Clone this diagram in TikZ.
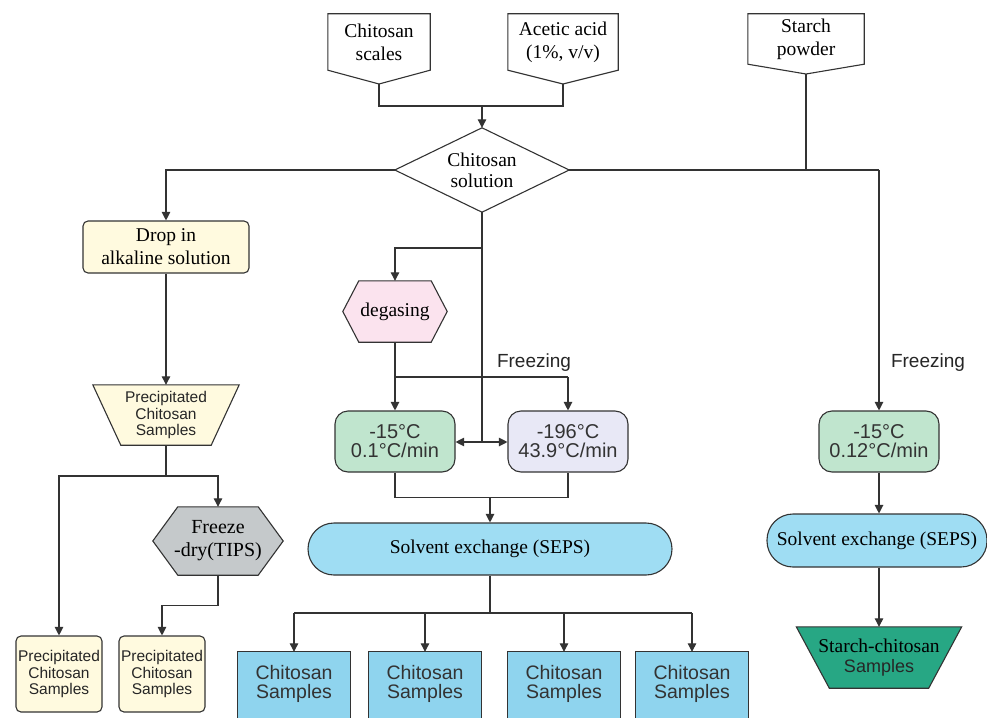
\documentclass[tikz,border=0pt]{standalone}
\usepackage{fontspec}
\setmainfont{Liberation Serif}
\setsansfont{Liberation Sans}
\usetikzlibrary{arrows.meta,backgrounds,calc}
\definecolor{outl}{HTML}{333333}
\definecolor{yel}{HTML}{FFFADF}
\definecolor{pnk}{HTML}{FBE3EE}
\definecolor{grn}{HTML}{C0E5CE}
\definecolor{lav}{HTML}{E8E8F6}
\definecolor{gry}{HTML}{C5C9CB}
\definecolor{sky}{HTML}{9FDDF3}
\definecolor{bbl}{HTML}{8FD4EE}
\definecolor{teal}{HTML}{27A784}
\begin{document}
\begin{tikzpicture}[x=1pt,y=-1pt,
  line/.style={draw=outl, line width=1.1pt},
  arr/.style={line, -{Triangle[length=8.5pt,width=8.5pt]}},
  shp/.style={draw=outl, line width=1.1pt},
  slot/.style={inner sep=0pt, align=center},
  ser/.style={font=\fontsize{19.5}{23}\selectfont},
  sfs/.style={font=\sffamily\fontsize{15.5}{16.5}\selectfont, text=black!85},
  sfm/.style={font=\sffamily\fontsize{19.5}{19}\selectfont, text=black!80},
  sfl/.style={font=\sffamily\fontsize{19}{22}\selectfont, text=black!85, inner sep=0pt},
  temp/.style={slot, draw=outl, line width=1.1pt, rounded corners=13pt,
    minimum width=120pt, minimum height=61pt,
    font=\sffamily\fontsize{20}{19}\selectfont, text=black!80},
  pbox/.style={slot, sfs, draw=outl, line width=1.1pt, fill=yel, rounded corners=5pt,
    minimum width=86pt, minimum height=76pt},
  sxbox/.style={slot, ser, draw=outl, line width=1.1pt, fill=sky, rounded corners=26pt},
]
\useasboundingbox (0,0) rectangle (987,717);

% ---- top inputs
\node[slot,ser,minimum width=102pt,minimum height=56pt] (cs) at (379,42) {Chitosan\\scales};
\coordinate (cs tip) at (379,84);
\node[slot,ser,minimum width=110pt,minimum height=56pt] (aa) at (563,42) {Acetic acid\\(1\%, v/v)};
\coordinate (aa tip) at (563,84);
\node[slot,ser,minimum width=116pt,minimum height=50pt] (sp) at (806,39) {Starch\\powder};
\coordinate (sp tip) at (806,74);
\coordinate (join) at (482,106);
\node[slot,font=\fontsize{19.5}{21}\selectfont,minimum width=174pt,minimum height=84pt] (cso) at (482,170) {Chitosan\\solution};

% ---- left branch
\node[slot,ser,draw=outl,line width=1.1pt,fill=yel,rounded corners=5pt,
  minimum width=166pt,minimum height=52pt] (drop) at (166,247) {Drop in\\alkaline solution};
\node[slot,sfs,minimum width=146pt,minimum height=60pt] (pt) at (166,415) {Precipitated\\Chitosan\\Samples};
\coordinate (lsplit) at (166,476);
\node[slot,font=\fontsize{20}{23}\selectfont,minimum width=130pt,minimum height=68pt] (fd) at (218,541) {Freeze\\-dry(TIPS)};
\node[pbox] (pb1) at (59,674) {Precipitated\\Chitosan\\Samples};
\node[pbox] (pb2) at (162,674) {Precipitated\\Chitosan\\Samples};

% ---- middle branch
\coordinate (br) at (482,248);
\coordinate (dbl) at (482,442);
\node[slot,ser,minimum width=104pt,minimum height=61pt] (deg) at (395,311.5) {degasing};
\coordinate (fz) at (395,377);
\node[sfl] (frz1) at (534,363) {Freezing};
\node[temp,fill=grn] (t1) at (395,441.5) {-15°C\\0.1°C/min};
\node[temp,fill=lav] (t2) at (568,441.5) {-196°C\\43.9°C/min};
\coordinate (mj) at (490,497);
\node[sxbox,minimum width=364pt,minimum height=52pt] (sx) at (490,549) {Solvent exchange (SEPS)};
\coordinate (bs) at (490,613);
\node[slot,sfm,minimum width=112pt,minimum height=64pt] (c1) at (294,684) {Chitosan\\Samples};
\node[slot,sfm,minimum width=112pt,minimum height=64pt] (c2) at (425,684) {Chitosan\\Samples};
\node[slot,sfm,minimum width=112pt,minimum height=64pt] (c3) at (564,684) {Chitosan\\Samples};
\node[slot,sfm,minimum width=112pt,minimum height=64pt] (c4) at (692,684) {Chitosan\\Samples};

% ---- right branch
\node[sfl] (frz2) at (928,363) {Freezing};
\node[temp,fill=grn] (t3) at (879,441.5) {-15°C\\0.12°C/min};
\node[sxbox,minimum width=220pt,minimum height=53pt] (sx2) at (877,540.5) {Solvent exchange (SEPS)};
\node[slot,font=\fontsize{18}{20}\selectfont,minimum width=165pt,minimum height=61pt] (sc) at (879,657.5)
  {{\rmfamily\fontsize{19.5}{20}\selectfont Starch-chitosan}\\{\sffamily\color{black!85}Samples}};

% ---- custom shapes behind text
\begin{scope}[on background layer]
  \foreach \n in {cs,aa,sp}
    \draw[shp,fill=white] (\n.north west) -- (\n.north east) -- (\n.south east)
      -- (\n\space tip) -- (\n.south west) -- cycle;
  \draw[shp,fill=white] (cso.north) -- (cso.east) -- (cso.south) -- (cso.west) -- cycle;
  \draw[shp,fill=yel] (pt.north west) -- (pt.north east) -- ([xshift=-28pt]pt.south east)
    -- ([xshift=28pt]pt.south west) -- cycle;
  \draw[shp,fill=gry] (fd.west) -- ([xshift=25pt]fd.north west) -- ([xshift=-25pt]fd.north east)
    -- (fd.east) -- ([xshift=-25pt]fd.south east) -- ([xshift=25pt]fd.south west) -- cycle;
  \draw[shp,fill=pnk] (deg.west) -- ([xshift=16pt]deg.north west) -- ([xshift=-16pt]deg.north east)
    -- (deg.east) -- ([xshift=-16pt]deg.south east) -- ([xshift=16pt]deg.south west) -- cycle;
  \foreach \n in {c1,c2,c3,c4}
    \draw[shp,fill=bbl] (\n.north west) rectangle ([yshift=-14pt]\n.south east);
  \draw[shp,fill=teal] (sc.north west) -- (sc.north east) -- ([xshift=-33pt]sc.south east)
    -- ([xshift=33pt]sc.south west) -- cycle;
\end{scope}

% ---- connectors
\draw[line] (cs tip) -- (cs tip |- join) -- (aa tip |- join) -- (aa tip);
\draw[arr] (join) -- (cso.north);
\draw[arr] (cso.west) -| (drop.north);
\draw[line] (cso.east) -- (sp tip |- cso.east);
\draw[line] (sp tip) -- (sp tip |- cso.east);
\draw[line,line width=2.6pt] (sp tip |- cso.east) -- (t3.north |- cso.east);
\draw[arr] (t3.north |- cso.east) -- (t3.north);

\draw[arr] (drop.south) -- (pt.north);
\draw[line] (pt.south) -- (lsplit);
\draw[arr] (lsplit) -| (pb1.north);
\draw[arr] (lsplit) -| (fd.north);
\draw[arr] (fd.south) -- ++(0,30) -| (pb2.north);

\draw[line] (cso.south) -- (dbl);
\draw[arr] (br) -| (deg.north);
\draw[arr] (dbl) -- (t1.east |- dbl);
\draw[arr] (dbl) -- (t2.west |- dbl);
\draw[line] (deg.south) -- (fz) -- (t2.north |- fz);
\draw[arr] (fz) -- (t1.north);
\draw[arr] (t2.north |- fz) -- (t2.north);
\draw[line] (t1.south) -- ++(0,25) -| (t2.south);
\draw[arr] (mj) -- (sx.north);
\draw[line] (sx.south) -- (bs);
\draw[line] (c1.north |- bs) -- (c4.north |- bs);
\foreach \n in {c1,c2,c3,c4}
  \draw[arr] (\n.north |- bs) -- (\n.north);

\draw[arr] (t3.south) -- (t3.south |- sx2.north);
\draw[arr] (t3.south |- sx2.south) -- (sc.north);
\end{tikzpicture}
\end{document}
